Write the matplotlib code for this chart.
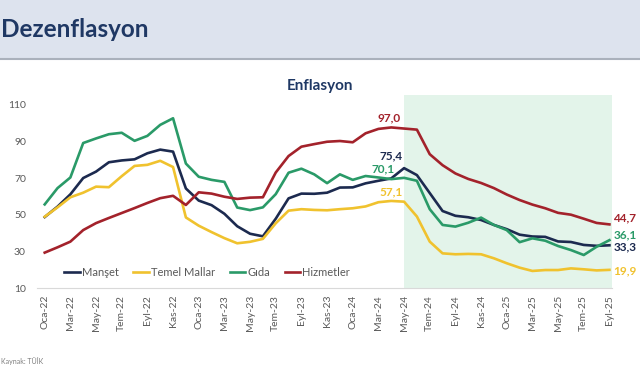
import matplotlib.pyplot as plt
from matplotlib.patches import Rectangle
from matplotlib.lines import Line2D

plt.rcParams['font.family'] = ['Lato', 'DejaVu Sans']

# monthly categories Oca-22 .. Eyl-25
ay = ['Oca', 'Şub', 'Mar', 'Nis', 'May', 'Haz', 'Tem', 'Ağu', 'Eyl', 'Eki', 'Kas', 'Ara']
months = [f"{m}-{y}" for y in ['22', '23', '24', '25'] for m in ay][:45]

manset = [48.7, 54.4, 61.1, 70.0, 73.5, 78.6, 79.6, 80.2, 83.5, 85.5, 84.4, 64.3,
          57.7, 55.2, 50.5, 43.7, 39.6, 38.2, 47.8, 58.9, 61.5, 61.4, 62.0, 64.8,
          64.9, 67.1, 68.5, 69.8, 75.4, 71.6, 61.8, 52.0, 49.4, 48.6, 47.1, 44.4,
          42.1, 39.1, 38.1, 37.9, 35.4, 35.1, 33.5, 33.0, 33.3]
temel_mallar = [48.9, 54.0, 59.5, 62.0, 65.3, 65.0, 71.0, 76.6, 77.2, 79.4, 76.0, 48.5,
                44.0, 40.5, 37.2, 34.4, 35.2, 36.8, 45.3, 52.2, 53.0, 52.6, 52.4, 53.0,
                53.5, 54.5, 56.8, 57.5, 57.1, 49.0, 35.3, 28.9, 28.4, 28.6, 28.4, 26.2,
                23.5, 21.1, 19.3, 19.8, 19.8, 20.7, 20.2, 19.6, 19.9]
gida = [55.6, 64.5, 70.3, 89.1, 91.6, 93.9, 94.7, 90.3, 93.0, 99.0, 102.6, 77.9,
        70.7, 69.0, 67.9, 53.9, 52.5, 54.0, 61.2, 72.9, 75.1, 72.0, 67.2, 72.0,
        69.0, 71.1, 70.3, 69.4, 70.1, 68.5, 53.0, 44.4, 43.5, 45.6, 48.4, 44.4,
        41.6, 35.0, 37.1, 35.8, 32.9, 30.7, 28.0, 32.5, 36.1]
hizmetler = [29.3, 32.2, 35.3, 41.6, 45.4, 48.2, 50.9, 53.6, 56.4, 59.0, 60.3, 55.3,
             62.2, 61.5, 59.8, 58.6, 59.3, 59.5, 73.0, 82.0, 87.1, 88.5, 89.8, 90.2,
             89.5, 94.4, 96.8, 97.6, 97.0, 96.4, 83.0, 77.0, 72.5, 69.5, 67.3, 64.5,
             61.0, 58.0, 55.5, 53.5, 51.0, 50.0, 47.8, 45.5, 44.7]

series = [('Manşet', manset, '#1c2a4f'),
          ('Temel Mallar', temel_mallar, '#f0c22e'),
          ('Gıda', gida, '#2a9a68'),
          ('Hizmetler', hizmetler, '#a3222b')]

start_idx = months.index('May-24')
x = list(range(len(months)))

fig = plt.figure(figsize=(6.4, 3.75), dpi=100)

# header band
fig.add_artist(Rectangle((0, 317 / 375), 1, 58 / 375, transform=fig.transFigure,
                         color='#dde3ee', zorder=0))
fig.add_artist(Line2D([0, 1], [316.5 / 375] * 2, transform=fig.transFigure,
                      color='#aab1bc', lw=1.5))
fig.text(1 / 640, 338 / 375, 'Dezenflasyon', ha='left', va='baseline',
         fontsize=17.5, fontweight='bold', color='#1f3864')
fig.text(320 / 640, 285 / 375, 'Enflasyon', ha='center', va='baseline',
         fontsize=11, fontweight='bold', color='#1f3864')
fig.text(1 / 640, 11 / 375, 'Kaynak: TÜİK', ha='left', va='baseline',
         fontsize=5, color='#7f7f7f')

ax = fig.add_axes([37 / 640, 87 / 375, 575 / 640, 193 / 375])
ax.axvspan(start_idx, 44.2, color='#e3f4ea', lw=0, zorder=0)

for name, vals, col in series:
    ax.plot(x, vals, color=col, lw=1.9, label=name, zorder=3)

# May-24 labels
ax.text(26.8, 102.7, '97,0', color='#a3222b', fontsize=8.5, fontweight='bold', ha='center', va='center')
ax.text(27.0, 82.0, '75,4', color='#1c2a4f', fontsize=8.5, fontweight='bold', ha='center', va='center')
ax.text(26.4, 74.9, '70,1', color='#2a9a68', fontsize=8.5, fontweight='bold', ha='center', va='center')
ax.text(27.0, 62.4, '57,1', color='#f0c22e', fontsize=8.5, fontweight='bold', ha='center', va='center')
# last values
ax.text(44.3, 48.2, '44,7', color='#a3222b', fontsize=8.5, fontweight='bold', ha='left', va='center')
ax.text(44.3, 38.9, '36,1', color='#2a9a68', fontsize=8.5, fontweight='bold', ha='left', va='center')
ax.text(44.3, 32.4, '33,3', color='#1c2a4f', fontsize=8.5, fontweight='bold', ha='left', va='center')
ax.text(44.3, 19.3, '19,9', color='#f0c22e', fontsize=8.5, fontweight='bold', ha='left', va='center')

ax.set_xlim(-0.6, 44.2)
ax.set_ylim(10, 115.3)
ax.set_yticks(range(10, 111, 20))
ax.set_xticks(x[::2])
ax.set_xticklabels(months[::2], rotation=90)
ax.tick_params(axis='both', length=0, labelsize=7.5, colors='#595959')
ax.tick_params(axis='y', pad=8)
ax.tick_params(axis='x', pad=5)
for s in ['top', 'right', 'left']:
    ax.spines[s].set_visible(False)
ax.spines['bottom'].set_color('#d9d9d9')
ax.spines['bottom'].set_linewidth(0.8)
ax.patch.set_alpha(0)

leg = ax.legend(loc='lower left', bbox_to_anchor=(0.03, 0.0), ncol=4, frameon=False,
                fontsize=8, handlelength=1.4, handletextpad=0.2, columnspacing=1.3)
for t in leg.get_texts():
    t.set_color('#595959')

fig.savefig('out.png', dpi=100)
